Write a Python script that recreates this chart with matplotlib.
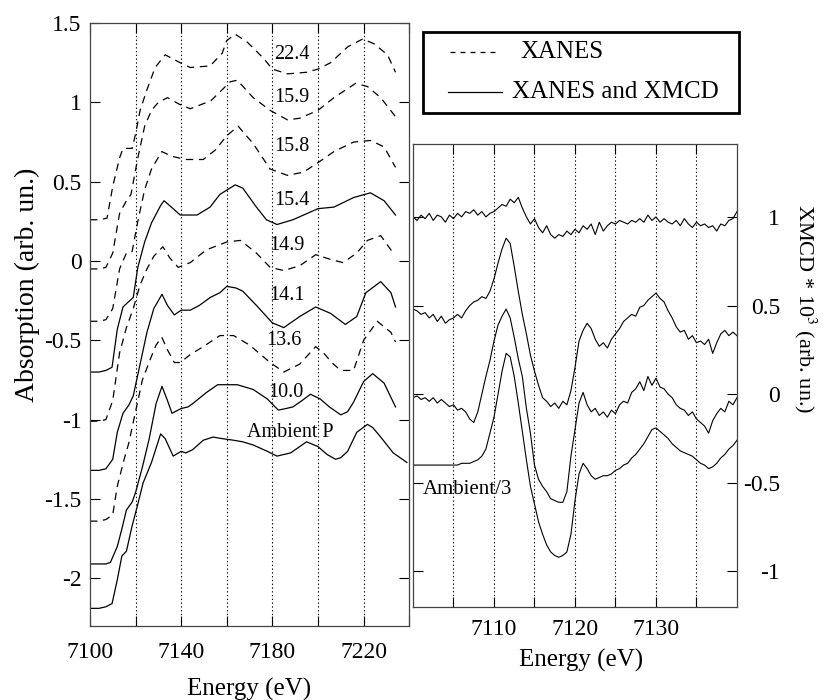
import matplotlib
matplotlib.use("Agg")
import matplotlib.pyplot as plt
from matplotlib.lines import Line2D
from matplotlib.patches import Rectangle
import numpy as np

plt.rcParams['font.family'] = ['Liberation Serif', 'DejaVu Serif']
plt.rcParams['mathtext.fontset'] = 'stix'
plt.rcParams['axes.unicode_minus'] = False

# ---- left panel: XANES spectra (energy in eV, absorption offset) ----
e_amb = [7100, 7104, 7107, 7109.7, 7112, 7114, 7116, 7118.5, 7120.7, 7123.3, 7127, 7129, 7131, 7133,
         7136.5, 7140, 7142, 7145, 7149.7, 7154, 7158, 7163, 7167, 7171.6, 7177.8, 7182, 7185, 7188,
         7191, 7195, 7200, 7204, 7207.7, 7210, 7213, 7217, 7221.7, 7224, 7227.5, 7233, 7239]
a_amb = [-2.19, -2.19, -2.18, -2.16, -2.01, -1.86, -1.83, -1.67, -1.55, -1.40, -1.27, -1.18, -1.09, -1.12,
         -1.23, -1.20, -1.21, -1.19, -1.13, -1.11, -1.12, -1.13, -1.14, -1.16, -1.20, -1.23, -1.22, -1.21,
         -1.18, -1.14, -1.17, -1.22, -1.25, -1.24, -1.20, -1.08, -1.03, -1.05, -1.11, -1.21, -1.27]

e_100 = [7100, 7104, 7107, 7109, 7112, 7114, 7116, 7118.5, 7120, 7123, 7126, 7129, 7131.6, 7134, 7136,
         7140, 7143, 7145, 7151, 7156, 7160, 7164.6, 7171.6, 7177.8, 7182.6, 7186, 7189, 7193, 7196.7,
         7201, 7205, 7210, 7213, 7215.6, 7220, 7224, 7229, 7234]
a_100 = [-1.91, -1.91, -1.91, -1.90, -1.80, -1.69, -1.57, -1.52, -1.46, -1.30, -1.12, -0.90, -0.79, -0.88, -0.96,
         -0.93, -0.92, -0.90, -0.83, -0.78, -0.78, -0.78, -0.81, -0.87, -0.94, -0.93, -0.92, -0.88, -0.84,
         -0.87, -0.92, -0.97, -0.95, -0.89, -0.76, -0.71, -0.77, -0.92]

e_136 = [7100, 7104, 7107, 7110, 7112, 7115, 7117, 7120, 7123, 7127, 7129, 7131.5, 7134, 7137, 7139.6,
         7144, 7149.7, 7157, 7163, 7170, 7179, 7185, 7192, 7199, 7202.5, 7206, 7210, 7215.6, 7220, 7226,
         7232, 7234]
a_136 = [-1.64, -1.64, -1.63, -1.60, -1.42, -1.25, -1.15, -0.95, -0.75, -0.60, -0.53, -0.48, -0.56, -0.64, -0.64,
         -0.59, -0.54, -0.47, -0.47, -0.53, -0.64, -0.70, -0.65, -0.54, -0.58, -0.64, -0.69, -0.69, -0.50, -0.38,
         -0.45, -0.51]

e_141 = [7100, 7104, 7107, 7110, 7112, 7114.5, 7117, 7119, 7122, 7125, 7128, 7131.6, 7134, 7137, 7140,
         7144, 7148, 7152.7, 7157, 7160, 7164, 7167, 7173, 7180, 7185, 7192, 7199, 7205.5, 7212, 7217,
         7221, 7227.5, 7232, 7234]
a_141 = [-1.32, -1.32, -1.31, -1.25, -1.08, -0.96, -0.91, -0.85, -0.65, -0.45, -0.30, -0.21, -0.28, -0.34, -0.31,
         -0.31, -0.28, -0.23, -0.20, -0.16, -0.17, -0.19, -0.28, -0.39, -0.42, -0.35, -0.29, -0.33, -0.40, -0.35,
         -0.20, -0.13, -0.20, -0.29]

e_149 = [7100, 7104, 7107, 7110, 7113, 7116, 7119, 7122, 7125, 7128, 7132, 7135, 7138.7, 7144, 7151,
         7160, 7166, 7173, 7179, 7185, 7192, 7199, 7205.5, 7211, 7217, 7221.7, 7227.5, 7233]
a_149 = [-1.01, -1.01, -1.00, -0.88, -0.58, -0.42, -0.30, -0.15, -0.05, 0.03, 0.09, 0.02, -0.04, -0.01, 0.07,
         0.12, 0.13, 0.05, -0.04, -0.06, -0.03, 0.04, 0.01, -0.01, 0.05, 0.13, 0.16, 0.05]

e_154 = [7100, 7104, 7107, 7109.7, 7112, 7114.5, 7116.7, 7119, 7121, 7124, 7127, 7131, 7132.5, 7136.5,
         7139.6, 7147, 7152.7, 7157, 7163.7, 7167, 7173, 7177.4, 7182, 7189, 7200, 7207, 7215.6, 7223,
         7229, 7234]
a_154 = [-0.70, -0.70, -0.69, -0.67, -0.43, -0.29, -0.26, -0.23, -0.04, 0.12, 0.24, 0.35, 0.38, 0.33,
         0.29, 0.29, 0.34, 0.42, 0.48, 0.46, 0.34, 0.26, 0.23, 0.26, 0.33, 0.34, 0.40, 0.43,
         0.38, 0.29]

e_158 = [7100, 7104, 7107, 7110, 7113, 7116, 7118.5, 7121, 7124, 7127, 7131.5, 7136, 7142, 7149.7, 7155,
         7160, 7165, 7171.6, 7179, 7186.6, 7193.6, 7200, 7207, 7215.6, 7223, 7229, 7234]
a_158 = [-0.38, -0.38, -0.37, -0.30, -0.05, 0.05, 0.06, 0.25, 0.45, 0.58, 0.69, 0.66, 0.64, 0.64, 0.70,
         0.79, 0.85, 0.74, 0.58, 0.54, 0.56, 0.62, 0.69, 0.75, 0.76, 0.72, 0.59]

e_159 = [7100, 7104, 7107, 7110, 7113, 7116, 7118, 7121, 7124, 7127, 7130, 7134, 7139, 7144, 7153, 7158,
         7161.5, 7164.6, 7171.6, 7179, 7186.6, 7192, 7200, 7207, 7216.5, 7221.7, 7227.5, 7234]
a_159 = [-0.05, -0.05, -0.04, 0.05, 0.30, 0.38, 0.42, 0.65, 0.85, 0.95, 1.00, 1.03, 0.99, 0.96, 1.01, 1.08,
         1.13, 1.14, 1.03, 0.95, 0.89, 0.90, 0.95, 1.03, 1.12, 1.10, 1.03, 0.91]

e_224 = [7100, 7104, 7107.5, 7110, 7113, 7114.5, 7118.5, 7120, 7122, 7125, 7128.6, 7133, 7139.6, 7144,
         7152.7, 7158, 7160, 7163.7, 7169, 7176, 7180, 7186.6, 7195, 7200, 7205.5, 7213, 7219.6, 7224.5,
         7230.5, 7234]
a_224 = [0.26, 0.26, 0.27, 0.47, 0.65, 0.71, 0.71, 0.80, 0.95, 1.08, 1.22, 1.30, 1.25, 1.22,
         1.23, 1.31, 1.39, 1.43, 1.38, 1.28, 1.21, 1.18, 1.19, 1.21, 1.25, 1.35, 1.40, 1.37,
         1.30, 1.19]

left_curves = [  # (energies, values, dashed?, label, label E, label y)
    (e_224, a_224, True, "22.4", 7188.4, 1.30),
    (e_159, a_159, True, "15.9", 7188.4, 1.03),
    (e_158, a_158, True, "15.8", 7188.4, 0.72),
    (e_154, a_154, False, "15.4", 7188.4, 0.38),
    (e_149, a_149, True, "14.9", 7186.2, 0.10),
    (e_141, a_141, False, "14.1", 7186.2, -0.22),
    (e_136, a_136, True, "13.6", 7184.9, -0.50),
    (e_100, a_100, False, "10.0", 7185.7, -0.83),
    (e_amb, a_amb, False, "Ambient P", 7188.0, -1.08),
]

# ---- right panel: XMCD spectra, 0.5 eV steps ----
e_xmcd = list(np.arange(7100, 7140.01, 0.5))
x_top = [1.00, 0.98, 1.01, 0.99, 1.02, 0.98, 1.01, 1.00, 0.97, 1.01, 0.99, 1.02, 1.00, 1.03, 1.02, 1.04,
         1.01, 1.03, 1.00, 1.02, 1.03, 1.05, 1.07, 1.06, 1.10, 1.08, 1.11, 1.05, 1.00, 0.96, 0.99, 0.94,
         0.91, 0.95, 0.90, 0.88, 0.90, 0.89, 0.92, 0.90, 0.93, 0.91, 0.95, 0.93, 0.96, 0.90, 0.97, 0.92,
         0.95, 0.97, 0.96, 0.98, 0.97, 0.96, 0.98, 0.97, 0.99, 0.97, 1.01, 0.98, 1.00, 0.97, 0.99, 0.97,
         0.96, 0.98, 0.95, 0.99, 0.96, 0.94, 0.97, 0.95, 0.96, 0.94, 0.95, 0.92, 0.96, 0.95, 0.98, 0.99,
         1.03]
x_second = [0.48, 0.47, 0.45, 0.46, 0.43, 0.45, 0.41, 0.44, 0.40, 0.42, 0.43, 0.45, 0.43, 0.47, 0.50, 0.52,
            0.53, 0.55, 0.54, 0.58, 0.65, 0.74, 0.82, 0.88, 0.85, 0.72, 0.58, 0.45, 0.34, 0.22, 0.13, 0.05,
            -0.02, -0.04, -0.07, -0.05, -0.08, -0.04, -0.06, 0.02, 0.15, 0.30, 0.36, 0.40, 0.37, 0.31, 0.27, 0.29,
            0.26, 0.31, 0.34, 0.37, 0.41, 0.43, 0.45, 0.44, 0.49, 0.50, 0.53, 0.55, 0.57, 0.54, 0.52, 0.47,
            0.43, 0.38, 0.35, 0.36, 0.31, 0.33, 0.29, 0.30, 0.28, 0.31, 0.23, 0.29, 0.34, 0.36, 0.33, 0.35,
            0.33]
x_third = [-0.02, -0.01, -0.03, -0.02, -0.04, -0.02, -0.05, -0.03, -0.05, -0.07, -0.06, -0.09, -0.08, -0.10, -0.14, -0.16,
           -0.10, 0.00, 0.10, 0.19, 0.30, 0.39, 0.44, 0.48, 0.43, 0.32, 0.20, 0.10, -0.08, -0.22, -0.40, -0.48,
           -0.52, -0.55, -0.59, -0.60, -0.61, -0.61, -0.55, -0.35, -0.20, -0.05, 0.01, -0.06, -0.10, -0.08, -0.12, -0.10,
           -0.13, -0.09, -0.11, -0.06, -0.04, -0.05, 0.01, 0.03, 0.07, 0.02, 0.10, 0.05, 0.09, 0.04, 0.03, 0.00,
           -0.02, -0.06, -0.08, -0.09, -0.12, -0.10, -0.14, -0.16, -0.18, -0.22, -0.15, -0.11, -0.08, -0.10, -0.04, -0.06,
           -0.02]
x_ambient = [-0.40, -0.40, -0.40, -0.40, -0.40, -0.40, -0.40, -0.40, -0.40, -0.40, -0.40, -0.40, -0.39, -0.39, -0.39, -0.38,
             -0.37, -0.35, -0.31, -0.22, -0.13, 0.00, 0.13, 0.23, 0.21, 0.10, -0.05, -0.21, -0.37, -0.52, -0.62, -0.72,
             -0.79, -0.85, -0.89, -0.91, -0.92, -0.91, -0.89, -0.79, -0.60, -0.45, -0.39, -0.42, -0.46, -0.48, -0.47, -0.46,
             -0.46, -0.45, -0.43, -0.42, -0.40, -0.39, -0.36, -0.34, -0.31, -0.28, -0.24, -0.20, -0.19, -0.21, -0.23, -0.25,
             -0.28, -0.30, -0.32, -0.33, -0.34, -0.35, -0.37, -0.39, -0.40, -0.42, -0.41, -0.39, -0.36, -0.34, -0.31, -0.29,
             -0.26]

fig = plt.figure(figsize=(8.25, 7), dpi=100)
dash = (0, (6, 4.5))

# left panel
ax1 = fig.add_axes([0.109, 0.106, 0.387, 0.861])
for xs, ys, dashed, lab, lx, ly in left_curves:
    ax1.plot(xs, ys, color='black', lw=0.9, linestyle=dash if dashed else '-')
    ax1.text(lx, ly, lab, fontsize=14.5, ha='center', va='center')
for xv in [7120, 7140, 7160, 7180, 7200, 7220]:
    ax1.axvline(xv, color='black', lw=0.8, linestyle=(0, (1.2, 2.2)))
ax1.set_xlim(7100, 7240)
ax1.set_ylim(-2.3, 1.5)
ax1.set_xticks([7100, 7120, 7140, 7160, 7180, 7200, 7220, 7240])
ax1.set_xticklabels(['7100', '', '7140', '', '7180', '', '7220', ''])
yt = [1.5, 1, 0.5, 0, -0.5, -1, -1.5, -2]
ax1.set_yticks(yt)
ax1.set_yticklabels(['1.5', '1', '0.5', '0', '-0.5', '-1', '-1.5', '-2'])
ax1.tick_params(direction='in', length=7, width=0.8, labelsize=17, top=True, right=True)
ax1.tick_params(axis='x', pad=12)
ax1.tick_params(axis='y', pad=6)
for s in ax1.spines.values():
    s.set_linewidth(0.9)
    s.set_color('#444444')

# right panel
ax2 = fig.add_axes([0.5006, 0.133, 0.3927, 0.661])
for ys in [x_top, x_second, x_third, x_ambient]:
    ax2.plot(e_xmcd, ys, color='black', lw=0.8)
for xv in [7105, 7110, 7115, 7120, 7125, 7130, 7135]:
    ax2.axvline(xv, color='black', lw=0.8, linestyle=(0, (1.2, 2.2)))
ax2.text(7101.2, -0.54, "Ambient/3", fontsize=15, ha='left', va='center')
ax2.set_xlim(7100, 7140)
ax2.set_ylim(-1.2, 1.41)
ax2.set_xticks([7105, 7110, 7115, 7120, 7125, 7130, 7135])
ax2.set_xticklabels(['', '7110', '', '7120', '', '7130', ''])
ax2.set_yticks([1, 0.5, 0, -0.5, -1])
ax2.set_yticklabels(['1', '0.5', '0', '-0.5', '-1'])
ax2.yaxis.tick_right()
ax2.tick_params(direction='in', length=7, width=0.8, labelsize=17, left=True, right=True, top=True)
ax2.tick_params(axis='x', pad=9)
ax2.tick_params(axis='y', pad=31)
for t in ax2.get_yticklabels():
    t.set_horizontalalignment('right')
for s in ax2.spines.values():
    s.set_linewidth(0.9)
    s.set_color('#444444')

# axis titles
fig.text(27 / 825, 1 - 285 / 700, "Absorption (arb. un.)", rotation=90, fontsize=20,
         ha='center', va='center')
fig.text(249 / 825, 1 - 689 / 700, "Energy (eV)", fontsize=18, ha='center', va='center')
fig.text(581 / 825, 1 - 660 / 700, "Energy (eV)", fontsize=18, ha='center', va='center')
fig.text(805 / 825, 1 - 309 / 700, r"XMCD * 10$^3$ (arb. un.)", rotation=270, fontsize=16,
         ha='center', va='center')

# legend box drawn in figure pixels
W, H = 825.0, 700.0
fig.patches.append(Rectangle((423 / W, 1 - 113 / H), 316 / W, 81 / H, transform=fig.transFigure,
                             facecolor='white', edgecolor='black', lw=2))
fig.lines.append(Line2D([450 / W, 500 / W], [1 - 52 / H] * 2, transform=fig.transFigure,
                        color='black', lw=0.9, linestyle=(0, (4, 4))))
fig.lines.append(Line2D([448 / W, 502 / W], [1 - 92 / H] * 2, transform=fig.transFigure,
                        color='black', lw=0.9))
fig.text(520 / W, 1 - 52 / H, "XANES", fontsize=18, ha='left', va='center')
fig.text(512 / W, 1 - 92 / H, "XANES and XMCD", fontsize=18, ha='left', va='center')

fig.savefig("out.png", dpi=100)
